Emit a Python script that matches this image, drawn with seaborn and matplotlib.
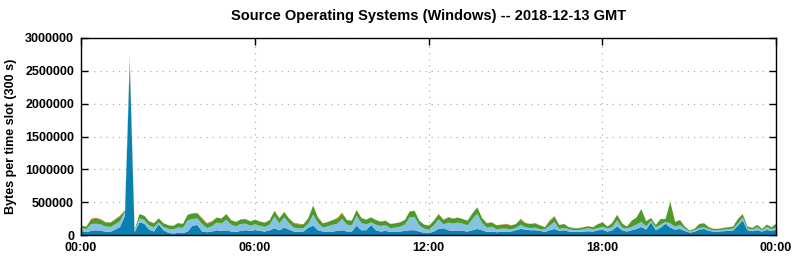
import numpy as np
import matplotlib
matplotlib.use("Agg")
import matplotlib.pyplot as plt
import seaborn as sns

# time slots in minutes (10-minute samples over one day)
minutes = list(range(0, 24 * 60 + 1, 10))

# layer values in kB per 300 s slot, bottom -> top
dark_blue = [70, 50, 70, 80, 70, 60, 55, 90, 130, 300, 2620, 50, 200, 180, 90, 60, 170, 80, 40, 30,
             40, 35, 60, 150, 160, 60, 50, 60, 80, 70, 80, 60, 55, 70, 80, 70, 80, 70, 60, 80,
             110, 80, 120, 90, 60, 55, 60, 120, 150, 80, 60, 60, 60, 70, 80, 60, 60, 150, 80, 80,
             160, 80, 60, 70, 55, 60, 60, 70, 80, 80, 60, 40, 35, 60, 100, 110, 80, 70, 70, 70,
             60, 80, 100, 80, 55, 60, 50, 55, 60, 60, 80, 100, 90, 80, 80, 70, 55, 80, 100, 70,
             80, 60, 55, 55, 60, 65, 60, 80, 85, 60, 80, 140, 80, 60, 80, 100, 130, 90, 200, 80,
             120, 180, 120, 90, 100, 70, 45, 55, 90, 100, 70, 60, 60, 65, 70, 75, 150, 230, 80, 65,
             80, 60, 85, 70, 90]
light_blue = [43, 48, 105, 100, 98, 76, 76, 80, 91, 60, 60, 20, 60, 56, 64, 66, 30, 51, 60, 60,
              84, 80, 170, 101, 100, 115, 64, 79, 117, 112, 160, 105, 85, 105, 100, 80, 90, 75, 70, 85,
              180, 105, 159, 99, 59, 54, 51, 60, 169, 110, 60, 79, 102, 110, 172, 105, 95, 153, 110, 90,
              40, 85, 85, 85, 55, 60, 75, 95, 195, 205, 95, 65, 55, 95, 145, 60, 115, 112, 127, 109,
              95, 171, 233, 110, 65, 75, 45, 50, 44, 33, 34, 65, 34, 35, 39, 25, 40, 70, 106, 29,
              35, 35, 27, 27, 35, 45, 35, 34, 48, 45, 50, 95, 40, 45, 50, 69, 75, 50, 26, 45,
              45, 30, 65, 45, 60, 35, 15, 25, 25, 25, 27, 20, 20, 25, 27, 30, 30, 45, 25, 25,
              45, 20, 45, 27, 30]
green = [35, 35, 70, 75, 70, 65, 65, 70, 75, 20, 30, 10, 65, 65, 60, 60, 60, 55, 55, 55,
         65, 60, 85, 85, 80, 75, 65, 65, 75, 75, 85, 70, 65, 70, 70, 65, 70, 65, 65, 70,
         85, 75, 80, 70, 65, 60, 60, 85, 135, 85, 65, 65, 70, 75, 85, 70, 70, 85, 75, 70,
         75, 70, 65, 70, 65, 65, 65, 70, 90, 90, 70, 60, 60, 70, 80, 70, 75, 75, 75, 70,
         70, 85, 95, 75, 65, 65, 60, 60, 60, 60, 60, 75, 65, 60, 60, 60, 30, 70, 80, 60,
         60, 30, 28, 28, 30, 30, 30, 60, 65, 30, 65, 80, 65, 30, 95, 105, 195, 75, 40, 35,
         85, 40, 325, 70, 75, 30, 15, 20, 60, 60, 28, 20, 20, 25, 28, 30, 70, 50, 30, 25,
         35, 20, 35, 28, 65]
orange = [2, 2, 10, 15, 12, 2, 2, 10, 10, 5, 10, 0, 2, 2, 2, 2, 2, 2, 2, 2,
          2, 2, 2, 2, 2, 15, 10, 15, 2, 2, 2, 2, 2, 2, 2, 2, 2, 2, 2, 2,
          2, 2, 2, 2, 10, 10, 2, 2, 2, 2, 2, 2, 2, 15, 10, 2, 2, 2, 2, 2,
          2, 2, 2, 2, 2, 2, 2, 2, 2, 2, 2, 2, 2, 2, 2, 2, 10, 2, 2, 2,
          2, 2, 2, 2, 2, 2, 2, 2, 15, 2, 2, 15, 2, 2, 10, 2, 2, 10, 10, 2,
          2, 2, 2, 2, 2, 2, 2, 2, 2, 2, 2, 2, 2, 2, 2, 2, 2, 2, 2, 2,
          2, 2, 2, 2, 2, 2, 2, 2, 2, 2, 2, 2, 2, 2, 2, 2, 2, 2, 2, 2,
          2, 2, 2, 2, 2]

x_ticks = [0, 360, 720, 1080, 1440]
x_tick_labels = ["00:00", "06:00", "12:00", "18:00", "00:00"]
y_ticks = [0, 500000, 1000000, 1500000, 2000000, 2500000, 3000000]

colors = ["#0a80b0", "#86c3e3", "#4c9a2a", "#d2691e"]

sns.set_theme(style="white")
plt.rcParams["font.family"] = ["Liberation Sans", "DejaVu Sans"]

fig = plt.figure(figsize=(7.95, 2.60), dpi=100)
ax = fig.add_axes([81 / 795, 25 / 260, (776 - 81) / 795, (235 - 38) / 260])

layers = [np.array(v) * 1000 for v in (dark_blue, light_blue, green, orange)]
ax.stackplot(minutes, *layers, colors=colors, linewidth=0)

ax.set_xlim(0, 1440)
ax.set_ylim(0, 3000000)
ax.set_xticks(x_ticks)
ax.set_xticklabels(x_tick_labels)
ax.set_yticks(y_ticks)
ax.set_yticklabels([str(v) for v in y_ticks])

ax.grid(True, color="#b0b0b0", linestyle=(0, (1, 4)), linewidth=0.9)
ax.set_axisbelow(True)

for s in ax.spines.values():
    s.set_color("black")
    s.set_linewidth(1.0)
    s.set_visible(True)

ax.tick_params(axis="both", which="major", direction="in", length=5, width=1,
               color="black", top=True, right=True, bottom=True, left=True,
               labelsize=9, pad=5)
for lab in ax.get_xticklabels() + ax.get_yticklabels():
    lab.set_fontweight("bold")
    lab.set_color("black")

ax.set_ylabel("Bytes per time slot (300 s)", fontsize=9, fontweight="bold",
              color="black", labelpad=6)
ax.set_title("Source Operating Systems (Windows) -- 2018-12-13 GMT",
             fontsize=10.5, fontweight="bold", color="black", pad=13)

fig.savefig("out.png", dpi=100, facecolor="white")
